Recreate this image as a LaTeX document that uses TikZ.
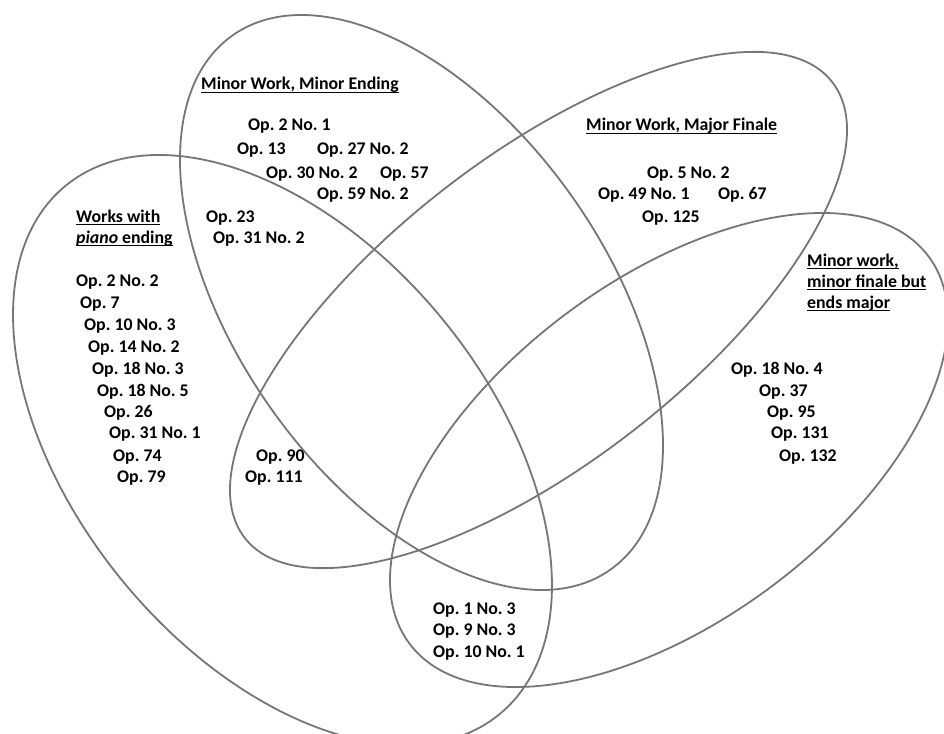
\documentclass[tikz,border=0pt]{standalone}
\usepackage{fontspec}
\setmainfont{Carlito}
\frenchspacing
\newcommand{\undl}[1]{\setbox0\hbox{#1}\rlap{\rule[-3pt]{\wd0}{1.2pt}}\box0}
\definecolor{ringgray}{RGB}{118,118,118}

\begin{document}
\begin{tikzpicture}[x=1pt,y=-1pt,
    ring/.style={draw=ringgray,line width=1.8pt},
    op/.style={anchor=base west,inner sep=0pt,font=\fontsize{17.8}{21.7}\selectfont\bfseries},
    head/.style={op}]
  \path[use as bounding box,clip] (0,0) rectangle (944,733);
  \fill[white] (0,0) rectangle (944,733);

  % the four sets
  \draw[ring,rotate around={-50.6:(282.5,450)}] (282.5,450) ellipse [x radius=341.9,y radius=206.7];
  \draw[ring,rotate around={-54.7:(421.5,302.5)}] (421.5,302.5) ellipse [x radius=327.2,y radius=184.1];
  \draw[ring,rotate around={37.8:(538.5,310)}] (538.5,310) ellipse [x radius=371.8,y radius=153.4];
  \draw[ring,rotate around={36.7:(669,450)}] (669,450) ellipse [x radius=323.8,y radius=170.7];

  % headings
  \node[head] (mme) at (201,90) {\undl{Minor Work, Minor Ending}};
  \node[head] (mmf) at (586,131) {\undl{Minor Work, Major Finale}};
  \node[head] (pe1) at (76,222) {\undl{Works with}};
  \node[head] (pe2) at (76,243) {\undl{\textit{piano} ending}};
  \node[head] (mw1) at (807,266) {\undl{Minor work,}};
  \node[head] (mw2) at (807,287) {\undl{minor finale but}};
  \node[head] (mw3) at (807,308) {\undl{ends major}};

  % works
  \node[op] (me1) at (248,131) {Op. 2 No. 1};
  \node[op] (me2) at (237,154) {Op. 13};
  \node[op] (me3) at (317,154) {Op. 27 No. 2};
  \node[op] (me4) at (266,178) {Op. 30 No. 2};
  \node[op] (me5) at (380,178) {Op. 57};
  \node[op] (me6) at (317,199) {Op. 59 No. 2};
  \node[op] (mp1) at (206,222) {Op. 23};
  \node[op] (mp2) at (213,243) {Op. 31 No. 2};
  \node[op] (mf1) at (647,178) {Op. 5 No. 2};
  \node[op] (mf2) at (598,199) {Op. 49 No. 1};
  \node[op] (mf3) at (718,199) {Op. 67};
  \node[op] (mf4) at (642,222) {Op. 125};
  \foreach \t/\x/\y [count=\i] in {Op. 2 No. 2/76/286,Op. 7/80/308,Op. 10 No. 3/84/330,
      Op. 14 No. 2/88/352,Op. 18 No. 3/92/374,Op. 18 No. 5/97/396,Op. 26/104/417,
      Op. 31 No. 1/109/438,Op. 74/113/461,Op. 79/117/482}
    \node[op] (pn\i) at (\x,\y) {\t};
  \node[op] (pm1) at (256,461) {Op. 90};
  \node[op] (pm2) at (245,482) {Op. 111};
  \foreach \t/\x/\y [count=\i] in {Op. 18 No. 4/731/374,Op. 37/759/396,Op. 95/767/417,
      Op. 131/771/438,Op. 132/779/461}
    \node[op] (ej\i) at (\x,\y) {\t};
  \node[op] (bt1) at (433,614) {Op. 1 No. 3};
  \node[op] (bt2) at (433,635) {Op. 9 No. 3};
  \node[op] (bt3) at (433,657) {Op. 10 No. 1};
\end{tikzpicture}
\end{document}
